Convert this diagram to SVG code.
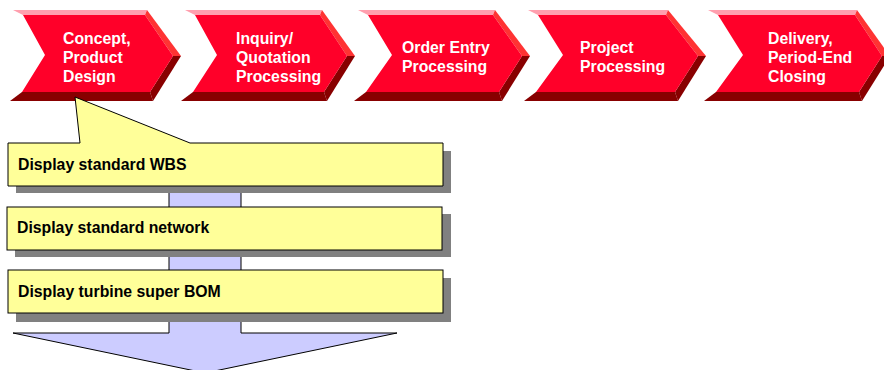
<svg xmlns="http://www.w3.org/2000/svg" width="884" height="370" viewBox="0 0 884 370">
<style>
.top{fill:#ff9fae}
.rt{fill:#ff3333}
.dk{fill:#880000}
.face{fill:#ff0029}
.ct{font-family:"Liberation Sans",Arial,sans-serif;font-weight:bold;font-size:15.8px;fill:#ffffff}
.bt{font-family:"Liberation Sans",Arial,sans-serif;font-weight:bold;font-size:15.8px;fill:#000000}
.box{fill:#ffff99;stroke:#000000;stroke-width:1}
.sh{fill:#808080}
.arrow{fill:#ccccff;stroke:#000000;stroke-width:1}
</style>
<rect width="884" height="370" fill="#ffffff"/>

<g id="chevron1">
<polygon class="top" points="13,10 147,10 145,15 23,15"/>
<polygon class="rt" points="147,10 181,56 173,56 145,15"/>
<polygon class="dk" points="173,56 181,56 153,101 150,92"/>
<polygon class="dk" points="22,92 150,92 153,101 10,101"/>
<polygon class="face" points="23,15 145,15 173,56 150,92 22,92 45,55"/>
<text class="ct" x="63" y="43.5">Concept,</text>
<text class="ct" x="63" y="62.5">Product</text>
<text class="ct" x="63" y="81.5">Design</text>
</g>

<g id="chevron2">
<polygon class="top" points="185,10 322,10 320,15 195,15"/>
<polygon class="rt" points="322,10 355,56 347,56 320,15"/>
<polygon class="dk" points="347,56 355,56 327,101 324,92"/>
<polygon class="dk" points="193,92 324,92 327,101 181,101"/>
<polygon class="face" points="195,15 320,15 347,56 324,92 193,92 217,55"/>
<text class="ct" x="236" y="44">Inquiry/</text>
<text class="ct" x="236" y="63">Quotation</text>
<text class="ct" x="236" y="82">Processing</text>
</g>

<g id="chevron3">
<polygon class="top" points="358,10 495,10 493,15 368,15"/>
<polygon class="rt" points="495,10 530,56 522,56 493,15"/>
<polygon class="dk" points="522,56 530,56 502,101 499,92"/>
<polygon class="dk" points="366,92 499,92 502,101 354,101"/>
<polygon class="face" points="368,15 493,15 522,56 499,92 366,92 392,55"/>
<text class="ct" x="402" y="53">Order Entry</text>
<text class="ct" x="402" y="72">Processing</text>
</g>

<g id="chevron4">
<polygon class="top" points="528,10 668,10 666,15 538,15"/>
<polygon class="rt" points="668,10 706,56 698,56 666,15"/>
<polygon class="dk" points="698,56 706,56 678,101 675,92"/>
<polygon class="dk" points="536,92 675,92 678,101 524,101"/>
<polygon class="face" points="538,15 666,15 698,56 675,92 536,92 563,55"/>
<text class="ct" x="580" y="53">Project</text>
<text class="ct" x="580" y="72">Processing</text>
</g>

<g id="chevron5">
<polygon class="top" points="708,10 857,10 855,15 718,15"/>
<polygon class="rt" points="857,10 890,56 882,56 855,15"/>
<polygon class="dk" points="882,56 890,56 862,101 859,92"/>
<polygon class="dk" points="716,92 859,92 862,101 704,101"/>
<polygon class="face" points="718,15 855,15 882,56 859,92 716,92 743,55"/>
<text class="ct" x="768" y="43.5">Delivery,</text>
<text class="ct" x="768" y="62.5">Period-End</text>
<text class="ct" x="768" y="81.5">Closing</text>
</g>

<g id="connectors">
<polygon class="arrow" points="169,150 241,150 241,333 397,333 205,373 13,333 169,333"/>
</g>

<g id="step1">
<rect class="sh" x="16" y="151" width="435" height="42"/>
<path class="box" d="M8,143 H80 L75,97 L190,143 H443 V186 H8 Z"/>
<text class="bt" x="18" y="170">Display standard WBS</text>
</g>

<g id="step2">
<rect class="sh" x="15" y="214" width="436" height="43"/>
<rect class="box" x="7" y="207" width="435" height="43"/>
<text class="bt" x="17" y="233">Display standard network</text>
</g>

<g id="step3">
<rect class="sh" x="16" y="278" width="435" height="44"/>
<rect class="box" x="8" y="270" width="435" height="43"/>
<text class="bt" x="18" y="297">Display turbine super BOM</text>
</g>
</svg>
